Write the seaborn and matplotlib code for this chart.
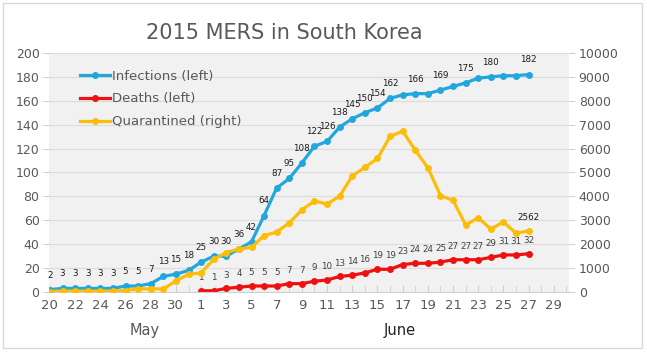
import matplotlib
matplotlib.use("Agg")
import matplotlib.pyplot as plt
from matplotlib.patches import Rectangle
from matplotlib.ticker import MultipleLocator
import seaborn as sns
import pandas as pd

# days from May 20 to June 27 2015
dates = pd.date_range("2015-05-20", "2015-06-27")

infections = [2, 3, 3, 3, 3, 3, 5, 5, 7, 13, 15, 18,
              25, 30, 30, 36, 42, 64, 87, 95, 108, 122, 126, 138, 145, 150,
              154, 162, 165, 166, 166, 169, 172, 175, 179, 180, 181, 181, 182]
deaths = [None] * 12 + [1, 1, 3, 4, 5, 5, 5, 7, 7, 9, 10, 13, 14, 16, 19, 19,
                        23, 24, 24, 25, 27, 27, 27, 29, 31, 31, 32]
quarantined = [20, 40, 40, 40, 40, 40, 60, 130, 130, 130, 460, 740,
               800, 1364, 1650, 1800, 1866, 2361, 2508, 2892, 3439, 3805, 3680,
               4014, 4856, 5216, 5586, 6508, 6729, 5930, 5197, 4035, 3833, 2805,
               3103, 2638, 2931, 2452, 2562]
# which infection points carry a value label (June 17 onward only some)
inf_labeled = list(range(0, 28)) + [29, 31, 33, 35, 38]

df = pd.DataFrame({"day": range(len(dates)), "infections": infections,
                   "deaths": deaths, "quarantined": quarantined})

blue = "#22a7dd"
red = "#ee1111"
yellow = "#fbbd08"
grey_txt = "#595959"

fig = plt.figure(figsize=(6.47, 3.52), dpi=100)
ax = fig.add_axes([0.0762, 0.1705, 0.8032, 0.6789])
ax2 = ax.twinx()

ax.set_facecolor("#f1f1f1")
ax2.patch.set_visible(False)

sns.lineplot(data=df, x="day", y="infections", ax=ax, color=blue, lw=2.3,
             marker="o", markersize=5, markeredgewidth=0, label="Infections (left)")
sns.lineplot(data=df.dropna(), x="day", y="deaths", ax=ax, color=red, lw=2.3,
             marker="o", markersize=5, markeredgewidth=0, label="Deaths (left)")
sns.lineplot(data=df, x="day", y="quarantined", ax=ax2, color=yellow, lw=2.3,
             marker="o", markersize=5, markeredgewidth=0, label="Quarantined (right)")

for i in inf_labeled:
    ax.annotate(str(infections[i]), (i, infections[i]), xytext=(0, 10.5),
                textcoords="offset points", ha="center", va="center",
                fontsize=6.3, color="#1a1a1a")
for i, v in enumerate(deaths):
    if v is not None:
        ax.annotate(str(v), (i, v), xytext=(0, 9.6), textcoords="offset points",
                    ha="center", va="center", fontsize=6.3, color="#404040")
ax2.annotate(str(quarantined[-1]), (len(dates) - 1, quarantined[-1]), xytext=(0, 9.6),
             textcoords="offset points", ha="center", va="center",
             fontsize=6.3, color="#1a1a1a")

ax.set_xlim(-0.05, 41.2)
ax.set_ylim(0, 200)
ax2.set_ylim(0, 10000)
ax.yaxis.set_major_locator(MultipleLocator(20))
ax2.yaxis.set_major_locator(MultipleLocator(1000))

all_days = pd.date_range("2015-05-20", "2015-06-30")
ticks = list(range(0, len(all_days) - 1, 2))
ax.set_xticks(ticks)
ax.set_xticklabels([str(all_days[t].day) for t in ticks])
ax.set_xticks(range(len(all_days)), minor=True)

ax.grid(axis="y", color="#dcdcdc", lw=0.8)
ax.set_axisbelow(True)
for a in (ax, ax2):
    for s in a.spines.values():
        s.set_visible(False)
    a.set_xlabel("")
    a.set_ylabel("")
ax.spines["bottom"].set_visible(True)
ax.spines["bottom"].set_color("#d0d0d0")

ax.tick_params(axis="x", which="both", direction="in", length=5, color="#d0d0d0",
               labelsize=9.5, labelcolor=grey_txt, pad=5)
ax.tick_params(axis="y", length=4, color="#d0d0d0", labelsize=9, labelcolor=grey_txt, pad=3)
ax2.tick_params(axis="y", length=4, color="#d0d0d0", labelsize=9, labelcolor=grey_txt, pad=3)

ax.get_legend().remove()
h1, l1 = ax.get_legend_handles_labels()
h2, l2 = ax2.get_legend_handles_labels()
ax2.legend(h1 + h2, l1 + l2, loc="upper left", bbox_to_anchor=(0.059, 0.931),
           frameon=False, fontsize=9.5, labelcolor=grey_txt, borderpad=0,
           borderaxespad=0, handlelength=2.27, handletextpad=0.15, labelspacing=0.75)

fig.text(0.224, 0.06, "May", ha="center", va="center", fontsize=10.5, color=grey_txt)
fig.text(0.618, 0.06, "June", ha="center", va="center", fontsize=10.5, color="#222222")
fig.text(0.44, 0.905, "2015 MERS in South Korea", ha="center", va="center",
         fontsize=15, color=grey_txt)

fig.patches.append(Rectangle((0.005, 0.012), 0.988, 0.979, transform=fig.transFigure,
                             fill=False, ec="#d9d9d9", lw=1))

fig.savefig("out.png", dpi=100)
